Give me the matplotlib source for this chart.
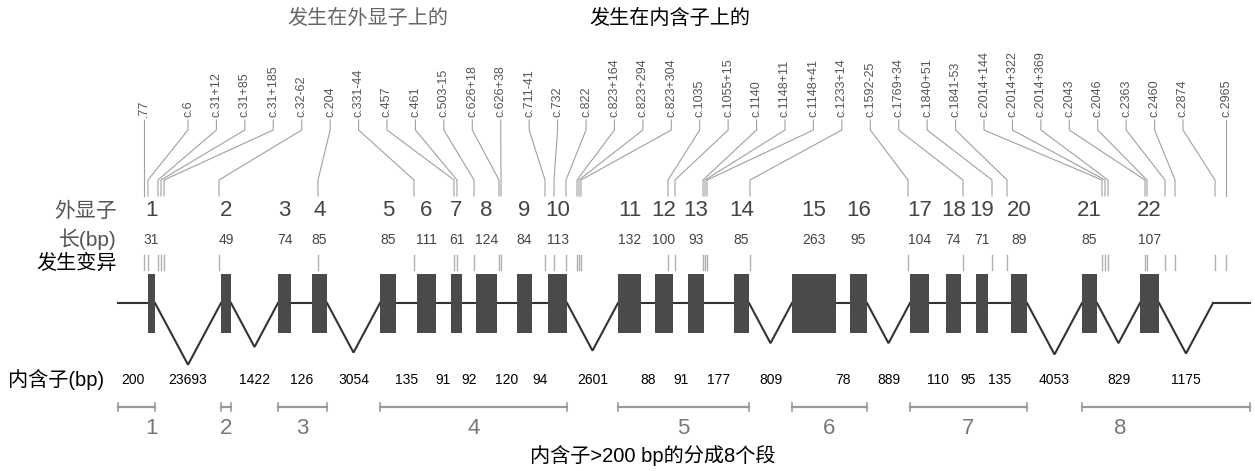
import numpy as np
import matplotlib
matplotlib.use("Agg")
import matplotlib.pyplot as plt
from matplotlib.patches import Rectangle

plt.rcParams['font.family'] = ['Liberation Sans', 'Noto Sans CJK SC', 'DejaVu Sans']

# ---- gene model (drawing units along the gene axis) ----
exon_numbers = [str(i) for i in range(1, 23)]
exon_lengths = [31, 49, 74, 85, 85, 111, 61, 124, 84, 113, 132, 100, 93, 85,
                263, 95, 104, 74, 71, 89, 85, 107]
exon_start = [148, 221, 278, 312, 380, 417, 451, 476, 517, 548, 618, 655, 688,
              734, 792, 850, 910, 946, 976, 1011, 1082, 1140]
exon_end = [155, 231, 291, 327, 396, 436, 462, 497, 532, 567, 641, 673, 704,
            749, 836, 867, 929, 961, 988, 1027, 1097, 1159]
gene_start, tail_start, gene_end = 118, 1213, 1250

intron_lengths = [200, 23693, 1422, 126, 3054, 135, 91, 92, 120, 94, 2601, 88,
                  91, 177, 809, 78, 889, 110, 95, 135, 4053, 829, 1175]

# variant names and their positions on the gene axis
variant_names = ['.77', 'c.6', 'c.31+12', 'c.31+85', 'c.31+185', 'c.32-62',
                 'c.204', 'c.331-44', 'c.457', 'c.461', 'c.503-15',
                 'c.626+18', 'c.626+38', 'c.711-41', 'c.732', 'c.822',
                 'c.823+164', 'c.823+294', 'c.823+304', 'c.1035', 'c.1055+15',
                 'c.1140', 'c.1148+11', 'c.1148+41', 'c.1233+14', 'c.1592-25',
                 'c.1769+34', 'c.1840+51', 'c.1841-53', 'c.2014+144',
                 'c.2014+322', 'c.2014+369', 'c.2043', 'c.2046', 'c.2363',
                 'c.2460', 'c.2874', 'c.2965']
variant_pos = [144, 148, 158, 161, 164, 219, 318, 414, 454, 457, 474, 499, 501,
               545, 554, 566, 577, 579, 581, 668, 675, 703, 705, 707, 750, 908,
               963, 992, 1007, 1102, 1105, 1108, 1145, 1147, 1165, 1175, 1215,
               1226]

# exon groups forming the segments (introns > 200 bp split the gene)
segment_names = ['1', '2', '3', '4', '5', '6', '7', '8']
segment_exons = [(0, 0), (1, 1), (2, 3), (4, 9), (10, 13), (14, 15), (16, 19),
                 (20, 21)]

# ---- figure ----
fig = plt.figure(figsize=(12.55, 4.71), dpi=100)
ax = fig.add_axes([0, 0, 1, 1])
ax.set_xlim(0, 1255)
ax.set_ylim(471, 0)
ax.axis('off')

Y_BACK = 303
BOX_TOP, BOX_BOT = 274, 333
SLOPE = 1.87
dark = '#444444'

# backbone: flat for short introns, V-shaped for long ones
bounds = [(gene_start, exon_start[0])]
bounds += [(exon_end[i], exon_start[i + 1]) for i in range(len(exon_start) - 1)]
bounds += [(exon_end[-1], tail_start)]
for (a, b), L in zip(bounds, intron_lengths):
    if L > 200:
        mid = (a + b) / 2
        ax.plot([a, mid, b], [Y_BACK, Y_BACK + SLOPE * (b - a) / 2, Y_BACK],
                color='#333333', lw=1.5, solid_joinstyle='miter', zorder=2)
    else:
        ax.plot([a, b], [Y_BACK, Y_BACK], color='#333333', lw=1.5, zorder=2)
ax.plot([tail_start, gene_end], [Y_BACK, Y_BACK], color='#333333', lw=1.5,
        zorder=2)

# exon boxes and labels
for s, e, n, L in zip(exon_start, exon_end, exon_numbers, exon_lengths):
    ax.add_patch(Rectangle((s, BOX_TOP), e - s, BOX_BOT - BOX_TOP,
                           facecolor='#4a4a4a', edgecolor='none', zorder=3))
    c = (s + e) / 2
    ax.text(c, 211, n, ha='center', va='center', fontsize=16, color=dark)
    ax.text(c, 240, str(L), ha='center', va='center', fontsize=10, color=dark)

# intron length labels
for (a, b), L in zip(bounds, intron_lengths):
    ax.text((a + b) / 2, 380, str(L), ha='center', va='center', fontsize=10,
            color='black')

# variant labels, connectors and ticks
label_x = np.concatenate([[144], np.linspace(188, 1183, 36), [1226]])
for name, lx, p in zip(variant_names, label_x, variant_pos):
    ax.text(lx, 117, name, rotation=90, ha='center', va='bottom', fontsize=9,
            color='#555555')
    ax.plot([lx, lx, p, p], [120, 130, 180, 196], color='#a0a0a0', lw=0.8,
            zorder=1)
    ax.plot([p, p], [255, 270], color='#b0b0b0', lw=1.0, zorder=1)

# segments
for name, (i0, i1) in zip(segment_names, segment_exons):
    s = gene_start if i0 == 0 else exon_start[i0]
    e = gene_end if i1 == len(exon_end) - 1 else exon_end[i1]
    ax.plot([s, e], [407, 407], color='#999999', lw=1.6)
    for x in (s, e):
        ax.plot([x, x], [403, 411], color='#999999', lw=1.2)
    c = (exon_start[i0] + exon_end[i1]) / 2
    ax.text(c, 429, name, ha='center', va='center', fontsize=16,
            color='#777777')

# headings and row labels
ax.text(368, 18, '发生在外显子上的', ha='center', va='center', fontsize=14.5,
        color='#666666')
ax.text(670, 18, '发生在内含子上的', ha='center', va='center', fontsize=14.5,
        color='black')
ax.text(117, 211, '外显子', ha='right', va='center', fontsize=15, color='#555555')
ax.text(117, 239, '长(bp)', ha='right', va='center', fontsize=15, color='#555555')
ax.text(117, 263, '发生变异', ha='right', va='center', fontsize=14.5, color='black')
ax.text(8, 380, '内含子(bp)', ha='left', va='center', fontsize=14.5, color='black')
ax.text(653, 455, '内含子>200 bp的分成8个段', ha='center', va='center',
        fontsize=14.5, color='black')

fig.savefig('out.png', dpi=100)
